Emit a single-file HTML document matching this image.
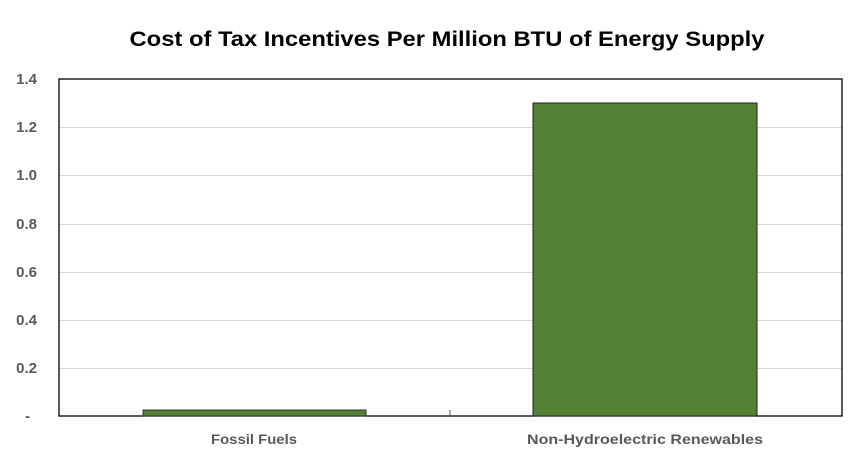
<!DOCTYPE html>
<html><head><style>
body{margin:0;background:#fff;}
svg text{font-family:"Liberation Sans",sans-serif;font-weight:bold;}
</style></head><body>
<svg width="863" height="462" xmlns="http://www.w3.org/2000/svg">
<text x="447" y="46" text-anchor="middle" font-size="21" fill="#000" textLength="635" lengthAdjust="spacingAndGlyphs">Cost of Tax Incentives Per Million BTU of  Energy Supply</text>
<g stroke="#d9d9d9" stroke-width="1">
<line x1="59" x2="842" y1="127.5" y2="127.5"/>
<line x1="59" x2="842" y1="175.5" y2="175.5"/>
<line x1="59" x2="842" y1="224.5" y2="224.5"/>
<line x1="59" x2="842" y1="272.5" y2="272.5"/>
<line x1="59" x2="842" y1="320.5" y2="320.5"/>
<line x1="59" x2="842" y1="368.5" y2="368.5"/>
</g>
<rect x="59" y="79" width="783" height="337" fill="none" stroke="#000" stroke-width="1.3"/>
<line x1="450" x2="450" y1="410" y2="416" stroke="#555"/>
<rect x="143" y="410" width="223" height="6" fill="#548235" stroke="#333" stroke-width="1"/>
<rect x="533" y="103" width="224" height="313" fill="#548235" stroke="#222" stroke-width="1"/>
<g font-size="15" fill="#595959" text-anchor="end">
<text x="37" y="84">1.4</text>
<text x="37" y="132">1.2</text>
<text x="37" y="180">1.0</text>
<text x="37" y="229">0.8</text>
<text x="37" y="277">0.6</text>
<text x="37" y="325">0.4</text>
<text x="37" y="373">0.2</text>
<text x="30" y="421">-</text>
</g>
<g font-size="14" fill="#595959" text-anchor="middle">
<text x="254" y="444" textLength="86" lengthAdjust="spacingAndGlyphs">Fossil Fuels</text>
<text x="645" y="444" textLength="236" lengthAdjust="spacingAndGlyphs">Non-Hydroelectric Renewables</text>
</g>
</svg>
</body></html>
